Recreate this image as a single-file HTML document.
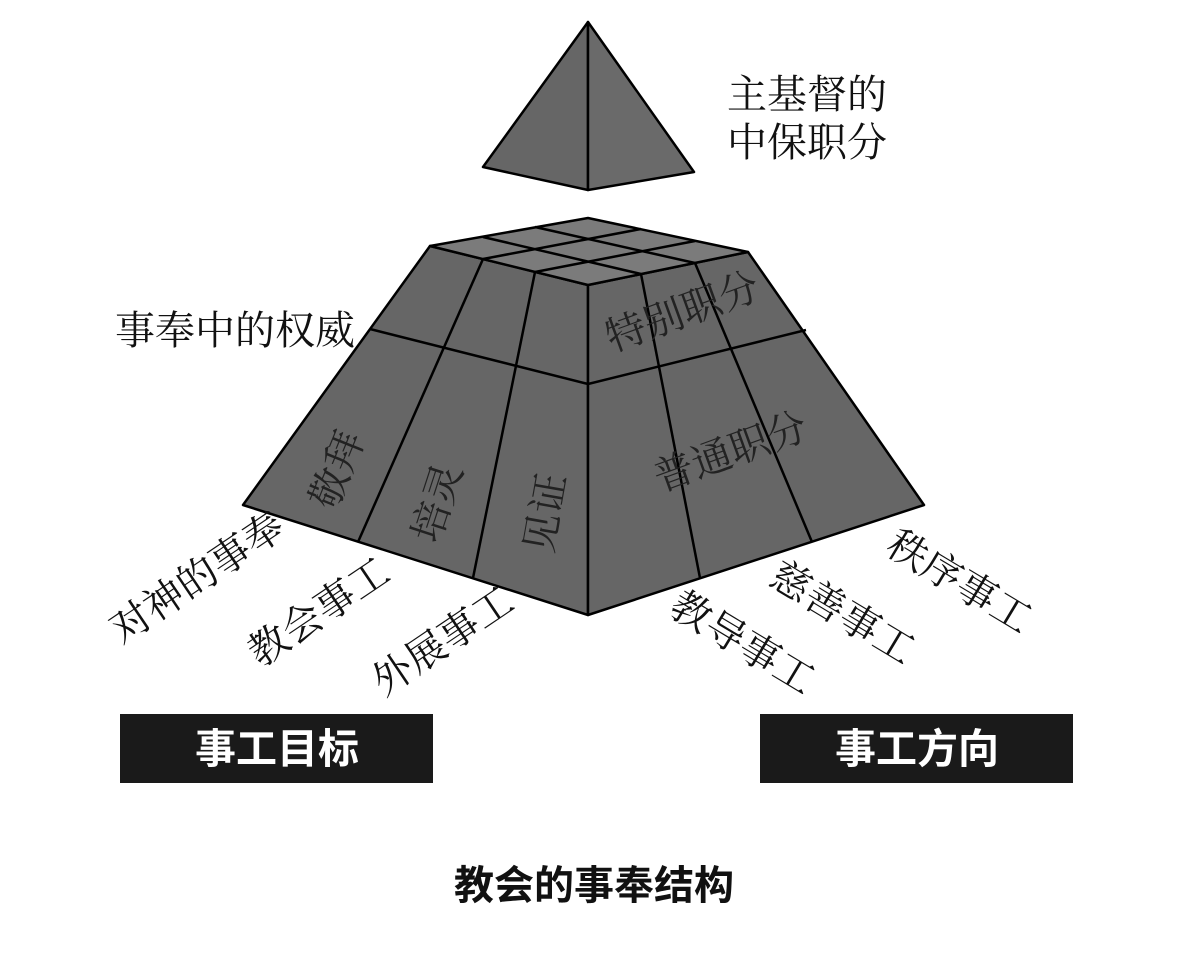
<!DOCTYPE html>
<html><head><meta charset="utf-8"><style>
html,body{margin:0;padding:0;background:#fff;}
svg{display:block;}
.s{font-family:"Liberation Serif","Noto Serif CJK SC",serif;fill:#111;}
.f{font-family:"Liberation Serif","Noto Serif CJK SC",serif;fill:#222;}
.b{font-family:"Liberation Sans","Noto Sans CJK SC",sans-serif;font-weight:bold;}
</style></head><body>
<svg width="1183" height="963" viewBox="0 0 1183 963" xmlns="http://www.w3.org/2000/svg">
<g stroke="#000" stroke-width="2.5" stroke-linejoin="round">
<polygon points="588,22 483,167 588,190" fill="#666"/>
<polygon points="588,22 694,172 588,190" fill="#6a6a6a"/>
<polygon points="430,246 588,285 588,615 243,505" fill="#666"/>
<polygon points="588,285 748,252 924,505 588,615" fill="#666"/>
<polygon points="430,246 588,218 748,252 588,285" fill="#7b7b7b"/>
<line x1="483" y1="259" x2="641" y2="229"/>
<line x1="535" y1="272" x2="695" y2="241"/>
<line x1="641" y1="274" x2="483" y2="237"/>
<line x1="695" y1="263" x2="535" y2="227"/>
<polyline points="370,329 588,384 806,330" fill="none"/>
<line x1="483" y1="259" x2="358" y2="542"/>
<line x1="535" y1="272" x2="473" y2="578"/>
<line x1="641" y1="274" x2="700" y2="578"/>
<line x1="695" y1="263" x2="812" y2="542"/>
</g>
<text class="f" font-size="40" transform="translate(335,512) rotate(-68)">敬拜</text>
<text class="f" font-size="40" transform="translate(438,545) rotate(-72)">培灵</text>
<text class="f" font-size="40" transform="translate(552,555) rotate(-80)">见证</text>
<text class="f" font-size="40" transform="translate(612,352) rotate(-20)">特别职分</text>
<text class="f" font-size="40" transform="translate(660,492) rotate(-20)">普通职分</text>
<text class="s" font-size="40" x="727" y="108">主基督的</text>
<text class="s" font-size="40" x="727" y="156">中保职分</text>
<text class="s" font-size="40" x="115" y="344">事奉中的权威</text>
<text class="s" font-size="40" transform="translate(122,645) rotate(-34)">对神的事奉</text>
<text class="s" font-size="40" transform="translate(260,668) rotate(-34)">教会事工</text>
<text class="s" font-size="40" transform="translate(384,697) rotate(-34)">外展事工</text>
<text class="s" font-size="40" transform="translate(884,552) rotate(31)">秩序事工</text>
<text class="s" font-size="40" transform="translate(767,583) rotate(31)">慈善事工</text>
<text class="s" font-size="40" transform="translate(667,613) rotate(31)">教导事工</text>
<rect x="120" y="714" width="313" height="69" fill="#1a1a1a"/>
<rect x="760" y="714" width="313" height="69" fill="#1a1a1a"/>
<text class="b" font-size="41" fill="#fff" x="277" y="763" text-anchor="middle">事工目标</text>
<text class="b" font-size="41" fill="#fff" x="917" y="763" text-anchor="middle">事工方向</text>
<text class="b" font-size="40" fill="#111" x="594" y="899" text-anchor="middle">教会的事奉结构</text>
</svg>
</body></html>
